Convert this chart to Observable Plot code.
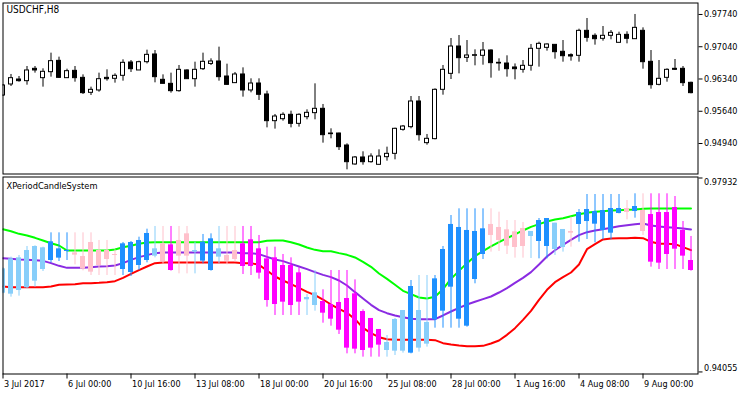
<!DOCTYPE html>
<html><head><meta charset="utf-8">
<script src="https://cdn.jsdelivr.net/npm/d3@7"></script>
<script src="https://cdn.jsdelivr.net/npm/@observablehq/plot@0.6"></script>
<style>
html,body{margin:0;padding:0;background:#fff;}
#chart{position:relative;width:750px;height:394px;overflow:hidden;background:#fff;}
#chart svg{display:block;}
</style></head><body><div id="chart"></div>
<script>
// ---------- main window: USDCHF H8 candles ----------
const symbolTitle = "USDCHF,H8";
const open = [0.95982,0.96221,0.96329,0.96293,0.96561,0.96358,0.96488,0.96734,0.96358,0.96517,
0.96365,0.96040,0.96091,0.96365,0.96344,0.96409,0.96698,0.96525,0.96705,0.96872,
0.96322,0.96235,0.96076,0.96525,0.96336,0.96553,0.96667,0.96720,0.96394,0.96250,
0.96438,0.96091,0.96242,0.96004,0.95425,0.95468,0.95563,0.95367,0.95512,0.95599,
0.95693,0.95157,0.95157,0.94897,0.94485,0.94637,0.94535,0.94478,0.94644,0.94716,
0.95237,0.95295,0.95852,0.94948,0.95035,0.96105,0.96452,0.97045,0.96799,0.96843,
0.96843,0.96958,0.96691,0.96676,0.96590,0.96539,0.96626,0.96995,0.97016,0.97081,
0.96930,0.96857,0.96843,0.97385,0.97277,0.97212,0.97277,0.97125,0.97298,0.97204,
0.97385,0.96713,0.96213,0.96365,0.96561,0.96561,0.96257];
const high = [0.96221,0.96438,0.96394,0.96611,0.96611,0.96561,0.96901,0.96814,0.96553,0.96611,
0.96430,0.96163,0.96467,0.96539,0.96452,0.96756,0.96741,0.96727,0.96966,0.96958,
0.96430,0.96467,0.96633,0.96539,0.96705,0.96901,0.96778,0.97031,0.96662,0.96481,
0.96582,0.96344,0.96344,0.96076,0.95570,0.95606,0.95642,0.95584,0.95671,0.96235,
0.95787,0.95259,0.95165,0.94933,0.94658,0.94760,0.94716,0.94803,0.94861,0.95273,
0.95331,0.95960,0.95960,0.95136,0.96127,0.96633,0.97219,0.97284,0.97175,0.96973,
0.97132,0.96973,0.96778,0.96843,0.96667,0.96741,0.97089,0.97139,0.97103,0.97081,
0.97175,0.96886,0.97421,0.97653,0.97320,0.97479,0.97392,0.97356,0.97364,0.97740,
0.97450,0.96958,0.96741,0.96561,0.96763,0.96611,0.96271];
const low = [0.95960,0.96177,0.96271,0.96206,0.96467,0.96163,0.96380,0.96351,0.96351,0.96271,
0.96004,0.95982,0.96054,0.96293,0.96250,0.96293,0.96481,0.96525,0.96667,0.96257,
0.96235,0.96033,0.96054,0.96329,0.96163,0.96525,0.96633,0.96293,0.96206,0.96250,
0.95946,0.96040,0.95874,0.95280,0.95252,0.95425,0.95280,0.95295,0.95454,0.95454,
0.94948,0.95042,0.94789,0.94369,0.94470,0.94470,0.94514,0.94470,0.94557,0.94586,
0.95208,0.95259,0.94991,0.94904,0.95020,0.95989,0.96329,0.96452,0.96698,0.96626,
0.96640,0.96358,0.96510,0.96380,0.96322,0.96467,0.96510,0.96597,0.96944,0.96770,
0.96705,0.96727,0.96705,0.97139,0.97074,0.97161,0.97190,0.97125,0.97103,0.97204,
0.96553,0.96119,0.96192,0.96271,0.96525,0.96177,0.96018];
const close = [0.96199,0.96358,0.96293,0.96525,0.96525,0.96496,0.96727,0.96365,0.96510,0.96358,
0.96033,0.96105,0.96336,0.96336,0.96409,0.96691,0.96553,0.96705,0.96864,0.96380,
0.96235,0.96076,0.96539,0.96336,0.96539,0.96713,0.96720,0.96380,0.96213,0.96438,
0.96091,0.96242,0.95997,0.95425,0.95526,0.95563,0.95367,0.95563,0.95606,0.95693,
0.95121,0.95143,0.94861,0.94535,0.94637,0.94535,0.94658,0.94658,0.94716,0.95259,
0.95309,0.95852,0.95121,0.95042,0.96105,0.96539,0.97045,0.96792,0.96850,0.96857,
0.96958,0.96684,0.96676,0.96553,0.96553,0.96626,0.96995,0.97103,0.97089,0.96922,
0.96835,0.96828,0.97385,0.97233,0.97204,0.97277,0.97342,0.97298,0.97212,0.97450,
0.96705,0.96206,0.96344,0.96539,0.96539,0.96250,0.96033];
const priceTicksMain = [0.97740,0.97040,0.96340,0.95640,0.94940];

// ---------- sub window: XPeriodCandleSystem ----------
const indicatorTitle = "XPeriodCandleSystem";
const xState = ["upWeak","upWeak","upWeak","upWeak","upWeak","upWeak","up","up","up","downWeak",
"downWeak","downWeak","downWeak","downWeak","downWeak","up","up","up","up","upWeak",
"downWeak","down","downWeak","downWeak","upWeak","up","up","upWeak","downWeak","downWeak",
"down","down","down","down","down","down","down","down","upWeak","upWeak",
"down","down","down","down","down","down","down","down","upWeak","upWeak",
"upWeak","up","upWeak","upWeak","up","up","up","up","up","up",
"up","downWeak","downWeak","downWeak","downWeak","downWeak","upWeak","up","up","upWeak",
"upWeak","downWeak","up","up","up","up","up","up","downWeak","up",
"downWeak","down","down","down","down","down","down"];
const xOpen = [0.95630,0.95610,0.95683,0.95737,0.95870,0.96103,0.96283,0.96330,0.96463,0.96436,
0.96363,0.96643,0.96483,0.96483,0.96403,0.96103,0.96043,0.96183,0.96283,0.96370,
0.96616,0.96596,0.96683,0.96816,0.96450,0.96270,0.96083,0.96350,0.96383,0.96483,
0.96616,0.96696,0.96516,0.96316,0.96336,0.96183,0.96183,0.96036,0.95497,0.95383,
0.95463,0.95403,0.95443,0.95523,0.95617,0.95263,0.95124,0.94904,0.94484,0.94471,
0.94471,0.94431,0.94531,0.94611,0.95097,0.95270,0.95750,0.95110,0.94970,0.95903,
0.96403,0.97003,0.96943,0.96896,0.96856,0.96923,0.96763,0.96663,0.96563,0.96503,
0.96543,0.96863,0.97003,0.97062,0.97009,0.96883,0.96829,0.97222,0.97322,0.97262,
0.97282,0.97202,0.97242,0.97242,0.97342,0.96883,0.96283];
const xHigh = [0.96136,0.96350,0.96383,0.96563,0.96576,0.96549,0.96836,0.96836,0.96836,0.96836,
0.96836,0.96836,0.96683,0.96683,0.96496,0.96643,0.96663,0.96749,0.96909,0.96963,
0.96963,0.96963,0.96963,0.96963,0.96649,0.96803,0.96816,0.96963,0.96963,0.96963,
0.96963,0.96963,0.96783,0.96549,0.96549,0.96403,0.96336,0.96136,0.95603,0.96083,
0.95697,0.96083,0.96083,0.96083,0.95896,0.95297,0.95124,0.94904,0.94784,0.95124,
0.95283,0.95883,0.95983,0.95983,0.95983,0.96563,0.97182,0.97316,0.97316,0.97316,
0.97316,0.97316,0.97249,0.97082,0.97082,0.97043,0.96863,0.97122,0.97122,0.97029,
0.96903,0.97149,0.97302,0.97602,0.97602,0.97602,0.97602,0.97602,0.97482,0.97616,
0.97616,0.97616,0.97616,0.97616,0.97562,0.97062,0.96763];
const xLow = [0.95617,0.95550,0.95570,0.95717,0.95750,0.96063,0.96236,0.96263,0.96283,0.96196,
0.96076,0.95983,0.95983,0.95983,0.95983,0.95983,0.95963,0.96083,0.96236,0.96336,
0.96216,0.96070,0.96016,0.96016,0.96016,0.96216,0.96070,0.96216,0.96196,0.96250,
0.96003,0.95983,0.95910,0.95350,0.95184,0.95184,0.95184,0.95184,0.95184,0.95270,
0.95030,0.94970,0.94804,0.94417,0.94417,0.94351,0.94351,0.94351,0.94351,0.94384,
0.94431,0.94417,0.94451,0.94551,0.94930,0.94930,0.94930,0.94930,0.94950,0.95817,
0.96303,0.96450,0.96463,0.96403,0.96330,0.96330,0.96323,0.96316,0.96316,0.96383,
0.96450,0.96549,0.96649,0.96703,0.96636,0.96696,0.96696,0.97216,0.97096,0.97129,
0.96783,0.96150,0.96103,0.96103,0.96103,0.96103,0.96070];
const xClose = [0.96116,0.96316,0.96336,0.96483,0.96563,0.96536,0.96656,0.96516,0.96483,0.96390,
0.96110,0.96050,0.96183,0.96303,0.96383,0.96616,0.96643,0.96683,0.96823,0.96516,
0.96256,0.96083,0.96370,0.96370,0.96483,0.96649,0.96716,0.96516,0.96270,0.96303,
0.96163,0.96163,0.96030,0.95483,0.95403,0.95450,0.95383,0.95450,0.95543,0.95637,
0.95230,0.95110,0.94890,0.94531,0.94511,0.94484,0.94531,0.94591,0.94644,0.95104,
0.95283,0.95763,0.95283,0.95044,0.95916,0.96503,0.97003,0.96943,0.96883,0.96863,
0.96916,0.96783,0.96683,0.96569,0.96543,0.96563,0.96863,0.97082,0.97122,0.97029,
0.96903,0.96829,0.97242,0.97302,0.97262,0.97282,0.97322,0.97322,0.97242,0.97362,
0.96863,0.96250,0.96230,0.96403,0.96509,0.96370,0.96083];
const upperLine = [0.96909,0.96869,0.96816,0.96783,0.96736,0.96683,0.96629,0.96583,0.96483,0.96483,
0.96483,0.96483,0.96483,0.96483,0.96503,0.96549,0.96576,0.96616,0.96643,0.96649,
0.96649,0.96649,0.96649,0.96649,0.96649,0.96649,0.96649,0.96649,0.96649,0.96649,
0.96649,0.96649,0.96649,0.96676,0.96683,0.96683,0.96649,0.96603,0.96543,0.96496,
0.96469,0.96469,0.96430,0.96396,0.96343,0.96256,0.96156,0.96023,0.95916,0.95797,
0.95677,0.95610,0.95543,0.95523,0.95557,0.95710,0.95916,0.96076,0.96230,0.96370,
0.96469,0.96563,0.96649,0.96729,0.96803,0.96883,0.96956,0.97009,0.97062,0.97102,
0.97129,0.97169,0.97209,0.97236,0.97256,0.97269,0.97282,0.97289,0.97296,0.97302,
0.97316,0.97322,0.97322,0.97322,0.97322,0.97322,0.97322];
const middleLine = [0.96330,0.96316,0.96303,0.96296,0.96290,0.96276,0.96230,0.96176,0.96136,0.96136,
0.96136,0.96150,0.96163,0.96170,0.96183,0.96230,0.96296,0.96350,0.96390,0.96430,
0.96443,0.96443,0.96443,0.96443,0.96443,0.96443,0.96443,0.96443,0.96443,0.96443,
0.96430,0.96430,0.96410,0.96356,0.96303,0.96270,0.96216,0.96163,0.96110,0.96050,
0.95996,0.95950,0.95883,0.95783,0.95650,0.95523,0.95397,0.95290,0.95230,0.95184,
0.95150,0.95117,0.95110,0.95110,0.95110,0.95184,0.95263,0.95337,0.95403,0.95457,
0.95510,0.95563,0.95643,0.95730,0.95836,0.95936,0.96050,0.96203,0.96363,0.96489,
0.96596,0.96696,0.96789,0.96849,0.96883,0.96909,0.96936,0.96969,0.96989,0.97009,
0.97023,0.96983,0.96963,0.96949,0.96936,0.96923,0.96903];
const lowerLine = [0.95763,0.95750,0.95750,0.95750,0.95750,0.95750,0.95763,0.95797,0.95803,0.95810,
0.95830,0.95830,0.95836,0.95850,0.95870,0.95936,0.96016,0.96090,0.96163,0.96230,
0.96243,0.96243,0.96243,0.96243,0.96243,0.96243,0.96243,0.96243,0.96243,0.96243,
0.96230,0.96230,0.96196,0.96083,0.95963,0.95883,0.95810,0.95737,0.95657,0.95590,
0.95503,0.95403,0.95317,0.95237,0.95110,0.94937,0.94830,0.94750,0.94710,0.94697,
0.94697,0.94697,0.94697,0.94697,0.94690,0.94630,0.94604,0.94584,0.94570,0.94570,
0.94577,0.94624,0.94684,0.94797,0.94930,0.95097,0.95277,0.95497,0.95697,0.95850,
0.95950,0.96043,0.96203,0.96509,0.96609,0.96703,0.96723,0.96729,0.96729,0.96736,
0.96729,0.96656,0.96616,0.96616,0.96609,0.96549,0.96489];
const priceTicksSub = [0.97932,0.94055];

// ---------- time axis ----------
const tickBars = [0,8,16,24,32,40,48,56,64,72,80];
const tickLabels = ["3 Jul 2017","6 Jul 00:00","10 Jul 16:00","13 Jul 08:00","18 Jul 00:00","20 Jul 16:00","25 Jul 08:00","28 Jul 00:00","1 Aug 16:00","4 Aug 08:00","9 Aug 00:00"];

// ---------- build ----------
const FONT = "'DejaVu Sans Condensed','DejaVu Sans',sans-serif";
const bars = open.map((o, i) => ({i, open: o, high: high[i], low: low[i], close: close[i]}));
const xbars = xOpen.map((o, i) => ({i, open: o, high: xHigh[i], low: xLow[i], close: xClose[i], state: xState[i]}));
const lines = upperLine.map((v, i) => ({i, upper: v, middle: middleLine[i], lower: lowerLine[i]}));
const xDomain = [0, 86.875];
const baseStyle = {fontFamily: FONT, fontSize: "9px", background: "#fff", color: "#000"};

const topChart = Plot.plot({
  width: 750, height: 176,
  marginLeft: 2.5, marginRight: 52.5, marginTop: 2.5, marginBottom: 2.5,
  style: baseStyle,
  x: {domain: xDomain, axis: null},
  y: {domain: [0.942785, 0.979891], axis: "right", ticks: priceTicksMain, tickFormat: d3.format(".5f"), tickSize: 4, tickPadding: 2, label: null},
  marks: [
    Plot.ruleX(bars, {x: "i", y1: "low", y2: "high", stroke: "#000", strokeWidth: 1, clip: true}),
    Plot.rect(bars.filter(d => d.close >= d.open), {x1: d => d.i - 0.25, x2: d => d.i + 0.25, y1: "open", y2: "close", fill: "#fff", stroke: "#000", strokeWidth: 1, clip: true}),
    Plot.rect(bars.filter(d => d.close < d.open), {x1: d => d.i - 0.25, x2: d => d.i + 0.25, y1: "open", y2: "close", fill: "#000", stroke: "#000", strokeWidth: 1, clip: true}),
    Plot.frame({stroke: "#000"}),
    Plot.text([symbolTitle], {text: d => d, frameAnchor: "top-left", dx: 3.5, dy: 6.5, textAnchor: "start", lineAnchor: "middle", fontSize: 10, fill: "#000"})
  ]
});

const subChart = Plot.plot({
  width: 750, height: 218,
  marginLeft: 2.5, marginRight: 52.5, marginTop: 0.5, marginBottom: 20.5,
  style: baseStyle,
  x: {domain: xDomain, axis: "bottom", ticks: tickBars, tickFormat: () => "", tickSize: 5, label: null},
  y: {domain: [0.94014, 0.97952], axis: "right", ticks: priceTicksSub, tickFormat: () => "", tickSize: 4, label: null},
  color: {domain: ["up", "upWeak", "downWeak", "down"], range: ["#1e90ff", "#87cefa", "#ffc0cb", "#ff00ff"]},
  marks: [
    Plot.line(lines, {x: "i", y: "upper", stroke: "#00ff00", strokeWidth: 2, clip: true}),
    Plot.line(lines, {x: "i", y: "middle", stroke: "#8a2be2", strokeWidth: 2, clip: true}),
    Plot.line(lines, {x: "i", y: "lower", stroke: "#ff0000", strokeWidth: 2, clip: true}),
    Plot.ruleX(xbars, {x: "i", y1: "low", y2: "high", stroke: "state", strokeWidth: 1, clip: true}),
    Plot.rect(xbars, {x1: d => d.i - 0.3125, x2: d => d.i + 0.3125, y1: "open", y2: "close", fill: "state", clip: true}),
    Plot.frame({stroke: "#000"}),
    Plot.text([indicatorTitle], {text: d => d, frameAnchor: "top-left", dx: 3.5, dy: 9, textAnchor: "start", lineAnchor: "middle", fontSize: 9.2, fill: "#000"}),
    Plot.text([priceTicksSub[0]], {y: d => d, text: d => d.toFixed(5), frameAnchor: "right", dx: 6, dy: 4, textAnchor: "start", lineAnchor: "middle", fontSize: 9, fill: "#000"}),
    Plot.text([priceTicksSub[1]], {y: d => d, text: d => d.toFixed(5), frameAnchor: "right", dx: 6, dy: -4, textAnchor: "start", lineAnchor: "middle", fontSize: 9, fill: "#000"}),
    Plot.text(tickBars, {x: d => d, text: (d, i) => tickLabels[i], frameAnchor: "bottom", dy: 10, dx: 1, textAnchor: "start", lineAnchor: "middle", fontSize: 9, fill: "#000"})
  ]
});

const host = document.getElementById("chart");
host.appendChild(topChart);
host.appendChild(subChart);
</script>
</body></html>
